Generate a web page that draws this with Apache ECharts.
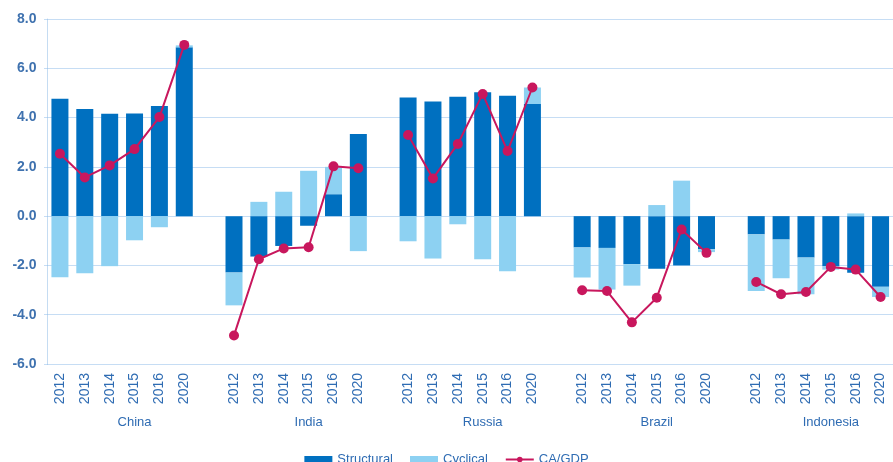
<!DOCTYPE html>
<html>
<head>
<meta charset="utf-8">
<script src="https://cdn.jsdelivr.net/npm/echarts@6/dist/echarts.min.js"></script>
<style>
  html, body { margin: 0; padding: 0; background: #ffffff; }
  #chart { width: 893px; height: 462px; }
</style>
</head>
<body>
<div id="chart"></div>
<script>
// Current account balance decomposition, % of GDP
const countries = ['China', 'India', 'Russia', 'Brazil', 'Indonesia'];
const years = ['2012', '2013', '2014', '2015', '2016', '2020'];

const structural = [
  [4.76, 4.35, 4.15, 4.17, 4.47, 6.85],
  [-2.29, -1.64, -1.21, -0.39, 0.89, 3.33],
  [4.81, 4.65, 4.84, 5.03, 4.89, 4.55],
  [-1.27, -1.29, -1.95, -2.13, -2.00, -1.34],
  [-0.74, -0.95, -1.68, -2.03, -2.30, -2.87]
];
const cyclical = [
  [-2.48, -2.32, -2.03, -0.98, -0.45, 0.08],
  [-1.33, 0.58, 0.99, 1.84, 1.11, -1.42],
  [-1.02, -1.72, -0.33, -1.75, -2.24, 0.67],
  [-1.22, -1.69, -0.87, 0.45, 1.44, -0.12],
  [-2.30, -1.57, -1.49, -0.14, 0.11, -0.41]
];
const caGdp = [
  [2.53, 1.57, 2.06, 2.72, 4.02, 6.95],
  [-4.84, -1.75, -1.31, -1.26, 2.02, 1.94],
  [3.29, 1.53, 2.93, 4.96, 2.64, 5.22],
  [-3.01, -3.04, -4.31, -3.31, -0.54, -1.49],
  [-2.67, -3.17, -3.08, -2.06, -2.17, -3.28]
];
const yTicks = { min: -6, max: 8, step: 2 };

// Flatten groups into one category axis with an empty slot between countries
const categories = [];
const groupLabels = [];
const flat = (arr) => {
  const out = [];
  arr.forEach((grp, gi) => {
    grp.forEach(v => out.push(v));
    if (gi < arr.length - 1) out.push(null);
  });
  return out;
};
countries.forEach((c, gi) => {
  years.forEach((y, yi) => {
    categories.push(c + '|' + y);
    groupLabels.push(yi === 3 ? c : '');
  });
  if (gi < countries.length - 1) {
    categories.push('gap' + gi);
    groupLabels.push('');
  }
});

const FONT = 'Liberation Sans, Arial, sans-serif';
const TEXT_BLUE = '#2f6cb3';
const GRID_BLUE = '#8cbae8';

const chart = echarts.init(document.getElementById('chart'), null, { renderer: 'canvas' });
chart.setOption({
  animation: false,
  textStyle: { fontFamily: FONT },
  grid: { left: 47.5, top: 19, width: 850, height: 345, containLabel: false },
  legend: {
    top: 453,
    left: 'center',
    padding: 0,
    itemGap: 17,
    itemWidth: 28,
    itemHeight: 7,
    textStyle: { fontSize: 13, color: TEXT_BLUE, fontFamily: FONT },
    data: [
      { name: 'Structural', icon: 'rect' },
      { name: 'Cyclical', icon: 'rect' },
      { name: 'CA/GDP' }
    ]
  },
  xAxis: [
    {
      type: 'category',
      data: categories,
      position: 'bottom',
      axisLine: { show: false, onZero: false },
      axisTick: { show: false },
      axisLabel: {
        interval: 0,
        rotate: 90,
        margin: 9,
        fontSize: 14,
        color: TEXT_BLUE,
        fontFamily: FONT,
        formatter: (v) => (v.indexOf('|') >= 0 ? v.split('|')[1] : '')
      }
    },
    {
      type: 'category',
      data: categories,
      position: 'bottom',
      offset: 44,
      axisLine: { show: false, onZero: false },
      axisTick: { show: false },
      axisLabel: {
        interval: 0,
        margin: 8,
        fontSize: 13,
        color: TEXT_BLUE,
        fontFamily: FONT,
        formatter: (v, i) => groupLabels[i]
      }
    }
  ],
  yAxis: {
    type: 'value',
    min: yTicks.min,
    max: yTicks.max,
    interval: yTicks.step,
    axisLine: { show: true, lineStyle: { color: '#c5dcf2', width: 1 } },
    axisTick: { show: true, length: 4, lineStyle: { color: GRID_BLUE, type: [1, 1] } },
    axisLabel: {
      margin: 11,
      fontSize: 14,
      fontWeight: 'bold',
      color: '#3f72af',
      fontFamily: FONT,
      formatter: (v) => v.toFixed(1)
    },
    splitLine: { show: true, lineStyle: { color: GRID_BLUE, type: [1, 1], width: 1 } }
  },
  series: [
    {
      name: 'Structural',
      type: 'bar',
      stack: 'ca',
      barWidth: 17,
      itemStyle: { color: '#0070c0' },
      data: flat(structural)
    },
    {
      name: 'Cyclical',
      type: 'bar',
      stack: 'ca',
      barWidth: 17,
      itemStyle: { color: '#8dd1f2' },
      data: flat(cyclical)
    },
    {
      name: 'CA/GDP',
      type: 'line',
      symbol: 'circle',
      symbolSize: 10,
      z: 5,
      lineStyle: { color: '#c8175d', width: 2 },
      itemStyle: { color: '#c8175d' },
      connectNulls: false,
      data: flat(caGdp)
    }
  ]
});
</script>
</body>
</html>
